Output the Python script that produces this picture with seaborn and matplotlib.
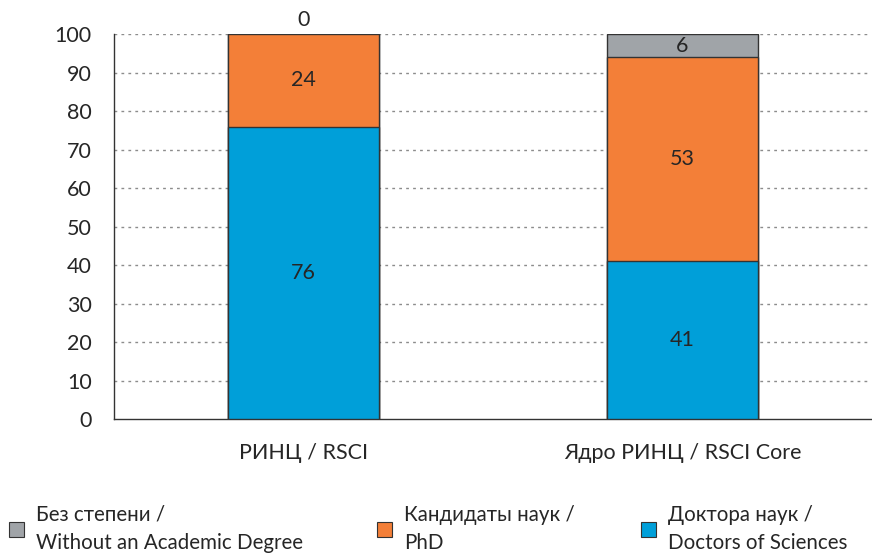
import matplotlib
matplotlib.use("Agg")
import matplotlib.pyplot as plt
import seaborn as sns
import numpy as np
import pandas as pd
from matplotlib.patches import Patch

categories = ["РИНЦ / RSCI", "Ядро РИНЦ / RSCI Core"]
doctors = [76, 41]
phd = [24, 53]
no_degree = [0, 6]
series_labels = ["Без степени /\nWithout an Academic Degree",
                 "Кандидаты наук /\nPhD",
                 "Доктора наук /\nDoctors of Sciences"]
yticks = list(range(0, 101, 10))

c_blue = "#009FD9"
c_orange = "#F37F38"
c_grey = "#A0A4A8"
edge = "#333333"

sns.set_theme(style="white")
plt.rcParams["font.family"] = ["Lato", "DejaVu Sans"]
plt.rcParams["font.size"] = 15.5

fig = plt.figure(figsize=(8.72, 5.55), dpi=100)
ax = fig.add_axes([0.1307, 0.245, 0.8693, 0.6935])

d = np.array(doctors); p = np.array(phd); n = np.array(no_degree)
df = pd.DataFrame({"cat": categories, "total": d + p + n, "dp": d + p, "d": d})

sns.barplot(data=df, x="cat", y="total", color=c_grey, width=0.4, ax=ax,
            saturation=1, edgecolor=edge, linewidth=1, zorder=3)
sns.barplot(data=df, x="cat", y="dp", color=c_orange, width=0.4, ax=ax,
            saturation=1, edgecolor=edge, linewidth=1, zorder=3)
sns.barplot(data=df, x="cat", y="d", color=c_blue, width=0.4, ax=ax,
            saturation=1, edgecolor=edge, linewidth=1, zorder=3)

# value labels
for i in range(len(categories)):
    segs = [(0, d[i]), (d[i], p[i]), (d[i] + p[i], n[i])]
    for base, h in segs:
        if h > 0:
            ax.text(i, base + h / 2, f"{h}", ha="center", va="center",
                    fontsize=15.5, color="#262626", zorder=5)
        else:
            ax.text(i, base + 1.0, f"{h}", ha="center", va="bottom",
                    fontsize=15.5, color="#262626", zorder=5, clip_on=False)

ax.set_xlim(-0.5, 1.5)
ax.set_ylim(0, 100)
ax.set_yticks(yticks)
ax.set_yticklabels([str(v) for v in yticks], fontsize=15.5, color="#262626")
ax.set_xlabel("")
ax.set_ylabel("")
ax.tick_params(axis="y", length=0, pad=16)

# x tick marks at category boundaries, labels at centers
ax.set_xticks([-0.5, 0.5, 1.5])
ax.set_xticklabels(["", "", ""])
ax.tick_params(axis="x", length=5, width=1, color="#333333", direction="out")
ax.set_xticks([0, 1], minor=True)
ax.set_xticklabels(categories, minor=True, fontsize=15.5, color="#262626")
ax.tick_params(axis="x", which="minor", length=0, pad=17)

for v in yticks[1:]:
    ax.axhline(v, xmax=0.995, color="#8c8c8c", linestyle=(0, (2, 3)), linewidth=1, zorder=1)

for s in ["top", "right"]:
    ax.spines[s].set_visible(False)
ax.spines["left"].set_color("#333333")
ax.spines["bottom"].set_color("#333333")
ax.spines["left"].set_linewidth(1)
ax.spines["bottom"].set_linewidth(1)

# legend: three entries
colors = [c_grey, c_orange, c_blue]
xpos = [-0.006, 0.416, 0.719]
for lab, col, xp in zip(series_labels, colors, xpos):
    leg = fig.legend(handles=[Patch(facecolor=col, edgecolor=edge, linewidth=0.8)],
                     labels=[lab], loc="lower left", bbox_to_anchor=(xp, -0.022),
                     frameon=False, handlelength=0.7, handleheight=0.7,
                     handletextpad=0.6, borderpad=0.2, labelspacing=0,
                     fontsize=14.8)
    for t in leg.get_texts():
        t.set_linespacing(1.5)
        t.set_color("#262626")

fig.savefig("out.png", dpi=100)
